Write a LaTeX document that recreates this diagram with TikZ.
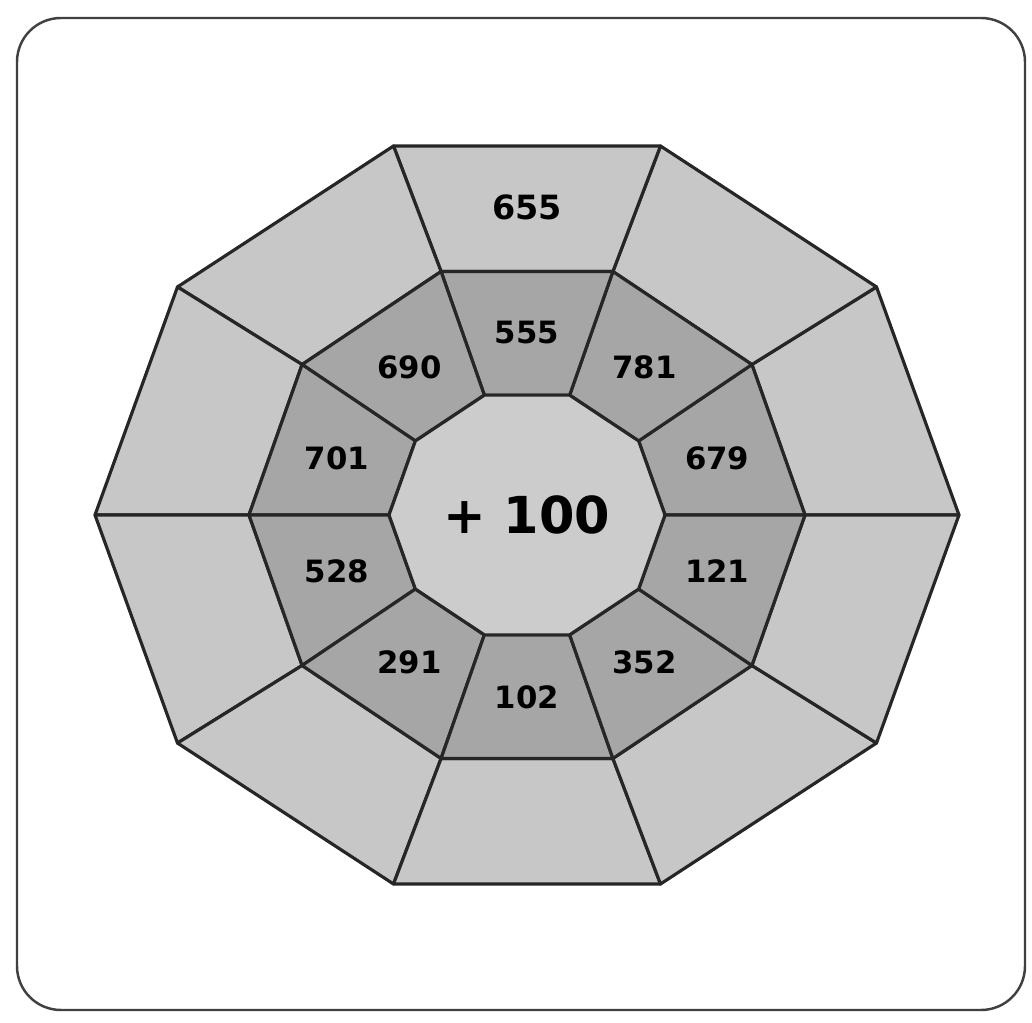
\documentclass[tikz,border=0pt]{standalone}
\usepackage{fontspec}
\setmainfont{DejaVu Sans}
\usepackage{tikz}

\begin{document}
\begin{tikzpicture}[
  x=0.02cm, y=0.02cm,
  cell/.style={draw=black!85, line width=1.8pt, line join=round},
  outer/.style={cell, fill=black!22},
  middle/.style={cell, fill=black!35},
  hub/.style={cell, fill=black!20},
  num/.style={font=\bfseries\fontsize{17.5}{20}\selectfont, inner sep=0pt},
  big/.style={font=\bfseries\fontsize{29}{32}\selectfont, inner sep=0pt},
  frame/.style={draw=black!75, line width=1.4pt, rounded corners=25pt}
]
\useasboundingbox (0,0) rectangle (1032,1022);
\draw[frame] (17,12) rectangle (1025,1004);

\begin{scope}[shift={(527,507)}]
% two rings of ten cells
\foreach \a in {0,36,...,324} {
  \filldraw[outer] (\a:432 and 388) -- (\a+36:432 and 388)
    -- (\a+36:278 and 256) -- (\a:278 and 256) -- cycle;
  \filldraw[middle] (\a:278 and 256) -- (\a+36:278 and 256)
    -- (\a+36:138 and 126) -- (\a:138 and 126) -- cycle;
}
% centre
\filldraw[hub] (0:138 and 126) \foreach \a in {36,72,...,324} {-- (\a:138 and 126)} -- cycle;
\node[big] (add) at (0,0) {+\,\,100};
\node[num, font=\bfseries\fontsize{19}{22}\selectfont] (top) at (90:0 and 308) {655};
\foreach \a/\t in {90/555, 54/781, 18/679, -18/121, -54/352,
                   -90/102, -126/291, -162/528, 162/701, 126/690}
  \node[num] (n\t) at (\a:200 and 182) {\t};
\end{scope}
\end{tikzpicture}
\end{document}
